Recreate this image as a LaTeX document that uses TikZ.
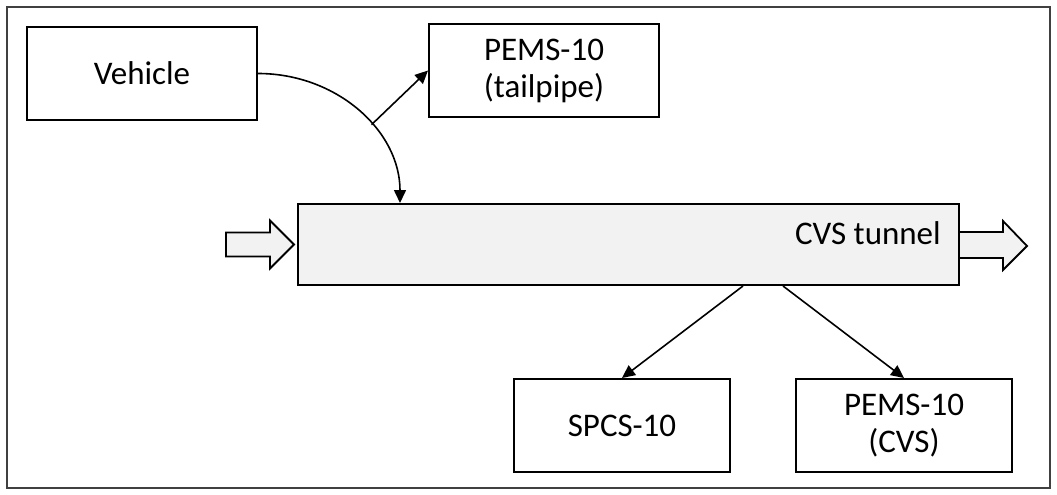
\documentclass[tikz,border=0pt]{standalone}
\usepackage{fontspec}
\setmainfont{Carlito}
\usetikzlibrary{arrows.meta,calc}
\definecolor{tunfill}{HTML}{F2F2F2}
\begin{document}
\begin{tikzpicture}[x=1pt,y=-1pt,
  box/.style={draw=black,line width=2pt,fill=white,minimum width=#1,minimum height=93pt,inner sep=0pt,align=center,font=\fontsize{33}{37}\selectfont},
  conn/.style={draw=black,line width=1.6pt,-{Triangle[length=13pt,width=12pt]}},
  fat/.style={draw=black,line width=1.8pt,fill=tunfill,line join=miter}]
\useasboundingbox (0,0) rectangle (1057,495);
\draw[line width=1.6pt,draw=black!75] (7,7) rectangle (1050,488);
\node[box=230pt] (veh) at (142,73.5) {Vehicle};
\node[box=230pt] (pt) at (544,70.5) {PEMS-10\\(tailpipe)};
\node[box=661pt,minimum height=81pt,fill=tunfill] (tun) at (628.5,244.5) {};
\node[anchor=east,inner sep=0pt,font=\fontsize{33}{37}\selectfont] (tunlbl) at (941,233) {CVS tunnel};
\node[box=216pt] (spcs) at (622,425.5) {SPCS-10};
\node[box=216pt] (pcvs) at (904,425.5) {PEMS-10\\(CVS)};
% fat arrows
\draw[fat] ($(tun.west)+(-71,-12)$) -- ++(44,0) -- ++(0,-12) -- ($(tun.west)+(-3,0)$) -- ($(tun.west)+(-27,24)$) -- ++(0,-12) -- ($(tun.west)+(-71,12)$) -- cycle;
\draw[fat] ($(tun.east)+(0,-12.5)$) -- ++(43,0) -- ++(0,-11) -- ($(tun.east)+(67,1.5)$) -- ($(tun.east)+(43,25.5)$) -- ++(0,-12) -- ($(tun.east)+(0,13.5)$);
% connectors
\draw[conn] (veh.east) .. controls +(79,0) and +(0,-72) .. ([xshift=103pt]tun.north west) coordinate[pos=0.59] (br);
\draw[conn] (br) -- (pt.west);
\draw[conn] ([xshift=114.5pt]tun.south) -- (spcs.north);
\draw[conn] ([xshift=154.5pt]tun.south) -- (pcvs.north);
\end{tikzpicture}
\end{document}
